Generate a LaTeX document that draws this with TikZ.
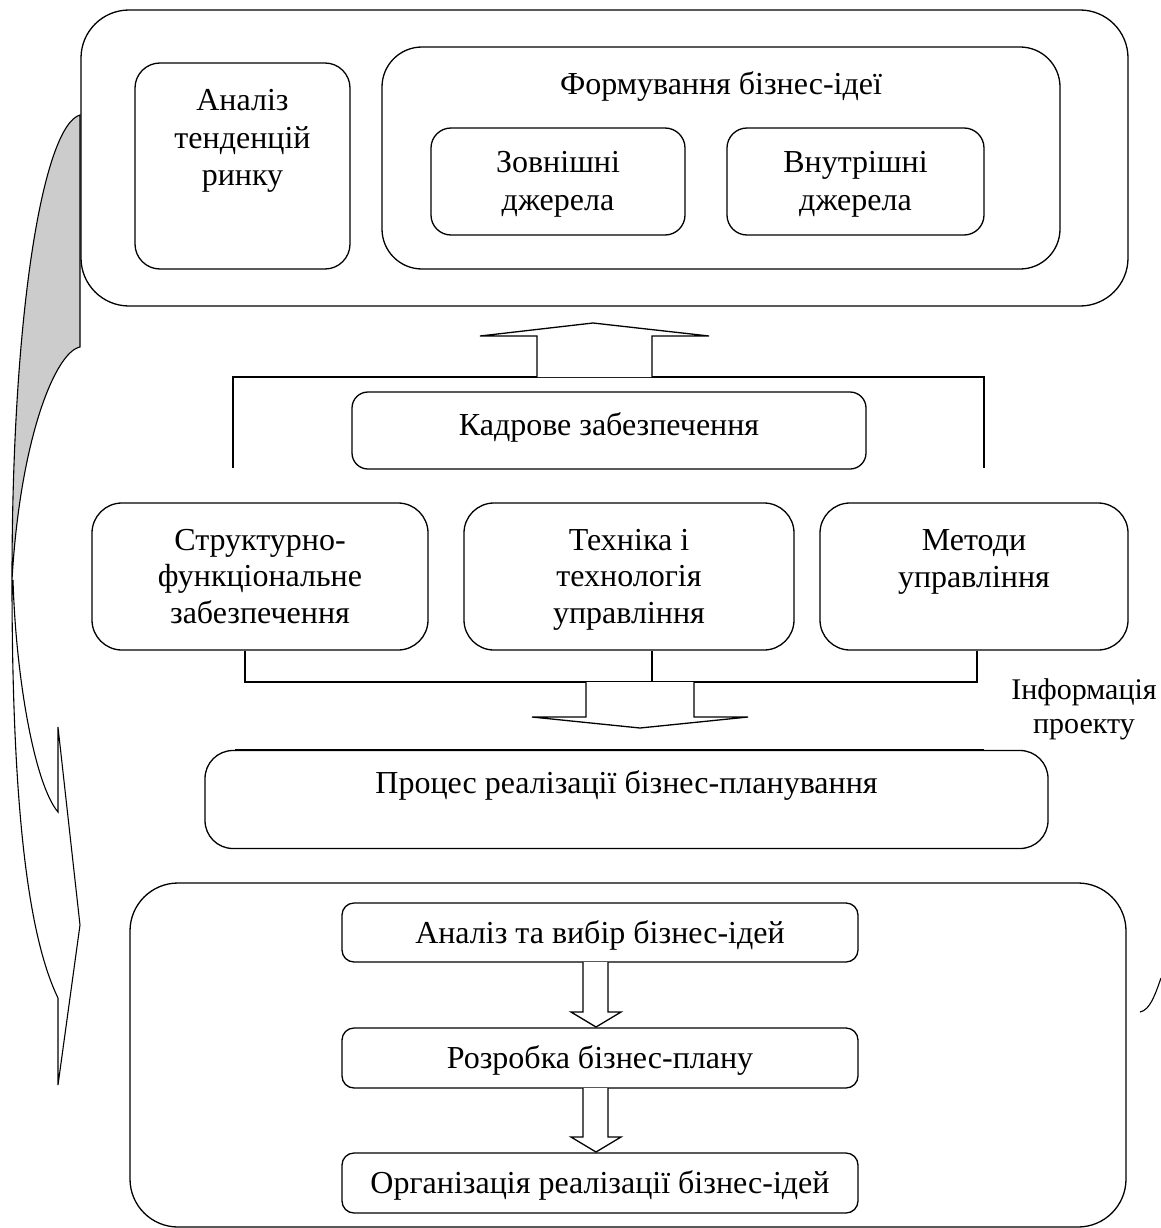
\documentclass[tikz,border=0pt]{standalone}
\usepackage{fontspec}
\setmainfont{Liberation Serif}
\begin{document}
\begin{tikzpicture}[x=1pt,y=-1pt,line width=1.3pt,
  rbox/.style={draw,rounded corners=#1,inner sep=0pt},
  txt/.style={font=\fontsize{32}{36.5}\selectfont,align=center,inner sep=0pt,anchor=base},
  blockarrow/.style={draw,fill=white,line join=miter}]
\useasboundingbox (0,0) rectangle (1161,1228);
% top group
\node[rbox=48,minimum width=1047,minimum height=296] (outer) at (604.5,158) {};
\node[rbox=25,minimum width=215,minimum height=206] (analiz) at (242.5,166) {};
\node[rbox=40,minimum width=678,minimum height=222] (form) at (721,158) {};
\node[rbox=20,minimum width=254,minimum height=107] (zovn) at (558,181.5) {};
\node[rbox=20,minimum width=257,minimum height=107] (vnut) at (855.5,181.5) {};
\node[txt,font=\fontsize{32}{37}\selectfont] (analizT) at (242.5,185) {Аналіз\\тенденцій\\ринку};
\node[txt] (formT) at (721,95) {Формування бізнес-ідеї};
\node[txt,font=\fontsize{32}{38}\selectfont] (zovnT) at (558,210) {Зовнішні\\джерела};
\node[txt,font=\fontsize{32}{38}\selectfont] (vnutT) at (855.5,210) {Внутрішні\\джерела};
% kadry
\node[rbox=16,minimum width=514,minimum height=77] (kadr) at (609,430.5) {};
\node[txt] (kadrT) at (609,435) {Кадрове забезпечення};
% row
\node[rbox=30,minimum width=336,minimum height=147] (strukt) at (260,576.5) {};
\node[rbox=30,minimum width=330,minimum height=147] (tekh) at (629,576.5) {};
\node[rbox=30,minimum width=308,minimum height=147] (metody) at (974,576.5) {};
\node[txt] (struktT) at (260,623) {Структурно-\\функціональне\\забезпечення};
\node[txt] (tekhT) at (629,623) {Техніка і\\технологія\\управління};
\node[txt] (metodyT) at (974,587) {Методи\\управління};
% process
\node[rbox=28,minimum width=843,minimum height=98] (proces) at (626.5,799.5) {};
\node[txt] (procesT) at (626.5,793) {Процес реалізації бізнес-планування};
\node[font=\fontsize{30}{34}\selectfont,align=center,inner sep=0pt,anchor=base] (info) at (1084,733) {Інформація\\проекту};
% bottom group
\node[rbox=48,minimum width=996,minimum height=344] (bottom) at (628,1055) {};
\node[rbox=12,minimum width=516,minimum height=59] (b1) at (600,932.5) {};
\node[rbox=12,minimum width=516,minimum height=60] (b2) at (600,1058) {};
\node[rbox=12,minimum width=516,minimum height=60] (b3) at (600,1183) {};
\node[txt] (b1T) at (600,943) {Аналіз та вибір бізнес-ідей};
\node[txt] (b2T) at (600,1068) {Розробка бізнес-плану};
\node[txt] (b3T) at (600,1193) {Організація реалізації бізнес-ідей};
% bracket above kadry
\coordinate (tL) at (233,377);
\coordinate (tR) at (984,377);
\coordinate (tLb) at (233,468);
\coordinate (tRb) at (984,468);
\draw (tLb) -- (tL) -- (tR) -- (tRb);
% up block arrow
\draw[blockarrow] (537,377) -- (537,336) -- (480,336) -- (593,323) -- (709,336) -- (652,336) -- (652,377);
% bracket below row
\coordinate (hL) at (245,682);
\coordinate (hM) at (652,682);
\coordinate (hR) at (977,682);
\draw (strukt.south -| hL) -- (hL) -- (hR) -- (metody.south -| hR);
\draw (tekh.south -| hM) -- (hM);
% down block arrow
\draw[blockarrow] (586,682) -- (586,717) -- (532,717) -- (640,728) -- (748,717) -- (694,717) -- (694,682);
% info line
\coordinate (iA) at (235,749);
\coordinate (iB) at (984,749);
\draw[line width=1pt] (iA) -- (iB);
% small arrows
\draw[blockarrow] (583,962) -- (583,1012) -- (571,1012) -- (596,1027) -- (621,1012) -- (608,1012) -- (608,962);
\draw[blockarrow] (583,1088) -- (583,1137) -- (571,1137) -- (596,1152) -- (621,1137) -- (608,1137) -- (608,1088);
% left curved arrow
\draw[fill=black!20,line width=1.1pt] (80,115) .. controls (45,125) and (12,300) .. (12,580)
   .. controls (20,440) and (55,352) .. (80,347) -- cycle;
\draw[line width=1.1pt,line join=miter] (12,580) .. controls (12,820) and (30,940) .. (58,998)
   -- (58,1085) -- (80,925) -- (58,727) -- (58,812)
   .. controls (35,785) and (16,680) .. (13,580);
% right arc fragment
\draw[line width=1.1pt] (1140,1012) .. controls (1150,1010) and (1155,995) .. (1161,978);
\end{tikzpicture}
\end{document}
